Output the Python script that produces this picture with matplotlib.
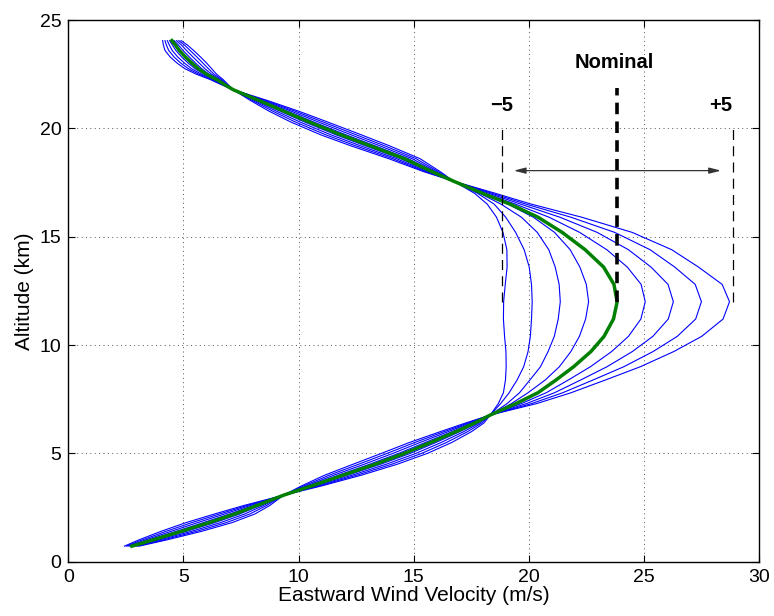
import matplotlib
matplotlib.use('Agg')
import matplotlib.pyplot as plt

plt.rcParams['font.family'] = ['Liberation Sans', 'DejaVu Sans']

# ---------------- data ----------------
ALT = [0.72, 1.0, 1.4, 1.8, 2.2, 2.6, 3.07,
       3.5, 4.0, 4.5, 5.0, 5.5, 6.0, 6.4, 6.77,
       7.3, 7.8, 8.4, 9.0, 9.7, 10.4, 11.2, 12.0, 12.8, 13.6, 14.4, 15.2, 15.9,
       16.5, 17.0, 17.56,
       18.0, 18.6, 19.2, 19.7, 20.3, 20.8, 21.3, 21.78,
       22.0, 22.25, 22.5, 22.75, 23.0, 23.3, 23.6, 23.85, 24.05]

WIND_M5 = [2.44, 3.05, 4.02, 5.10, 6.34, 7.64, 9.35,
           11.01, 12.75, 14.29, 15.60, 16.65, 17.51, 18.05, 18.33,
           18.68, 18.90, 18.99, 19.02, 19.01, 18.95, 18.90, 18.91, 18.98, 19.06,
           19.05, 18.88, 18.60, 18.20, 17.65, 16.74,
           16.16, 15.28, 13.94, 12.73, 11.25, 9.99, 8.61, 7.17,
           6.68, 6.17, 5.56, 5.07, 4.74, 4.42, 4.20, 4.13, 4.10]
WIND_M375 = [2.52, 3.20, 4.24, 5.35, 6.56, 7.78, 9.35,
             10.90, 12.55, 14.05, 15.35, 16.42, 17.34, 17.95, 18.33,
             18.78, 19.15, 19.50, 19.78, 19.97, 20.07, 20.12, 20.15, 20.12, 20.02,
             19.80, 19.43, 19.00, 18.50, 17.78, 16.74,
             16.07, 15.11, 13.73, 12.51, 11.05, 9.83, 8.52, 7.17,
             6.72, 6.24, 5.67, 5.22, 4.90, 4.59, 4.36, 4.26, 4.20]
WIND_M25 = [2.60, 3.35, 4.46, 5.60, 6.78, 7.92, 9.35,
            10.79, 12.35, 13.81, 15.10, 16.19, 17.17, 17.85, 18.33,
            19.06, 19.60, 20.06, 20.51, 20.84, 21.11, 21.28, 21.37, 21.32, 21.15,
            20.87, 20.37, 19.68, 18.80, 17.88, 16.74,
            15.98, 14.94, 13.52, 12.29, 10.85, 9.67, 8.43, 7.17,
            6.75, 6.31, 5.78, 5.36, 5.06, 4.75, 4.51, 4.39, 4.30]
WIND_M125 = [2.68, 3.50, 4.68, 5.85, 7.00, 8.06, 9.35,
             10.68, 12.15, 13.57, 14.85, 15.96, 17.00, 17.75, 18.33,
             19.25, 19.97, 20.73, 21.33, 21.83, 22.20, 22.47, 22.60, 22.50, 22.22,
             21.80, 21.12, 20.20, 19.10, 17.95, 16.74,
             15.89, 14.77, 13.31, 12.07, 10.65, 9.51, 8.34, 7.17,
             6.79, 6.38, 5.89, 5.51, 5.22, 4.92, 4.67, 4.52, 4.40]
WIND_NOMINAL = [2.76, 3.65, 4.90, 6.10, 7.22, 8.20, 9.35,
                10.57, 11.95, 13.33, 14.60, 15.73, 16.83, 17.65, 18.33,
                19.45, 20.40, 21.20, 21.95, 22.70, 23.27, 23.68, 23.84, 23.70, 23.25,
                22.45, 21.45, 20.40, 19.20, 18.00, 16.74,
                15.80, 14.60, 13.10, 11.85, 10.45, 9.35, 8.25, 7.17,
                6.82, 6.45, 6.00, 5.65, 5.38, 5.08, 4.82, 4.65, 4.50]
WIND_P125 = [2.84, 3.80, 5.12, 6.35, 7.44, 8.34, 9.35,
             10.46, 11.75, 13.09, 14.35, 15.50, 16.66, 17.55, 18.33,
             19.68, 20.76, 21.74, 22.68, 23.60, 24.33, 24.87, 25.06, 24.88, 24.28,
             23.39, 22.21, 20.88, 19.43, 18.14, 16.74,
             15.71, 14.43, 12.89, 11.63, 10.25, 9.19, 8.16, 7.17,
             6.86, 6.52, 6.11, 5.80, 5.54, 5.25, 4.98, 4.78, 4.60]
WIND_P25 = [2.92, 3.95, 5.34, 6.60, 7.66, 8.48, 9.35,
            10.35, 11.55, 12.85, 14.10, 15.27, 16.49, 17.45, 18.33,
            19.90, 21.12, 22.28, 23.40, 24.50, 25.39, 26.06, 26.28, 26.05, 25.31,
            24.33, 22.97, 21.35, 19.66, 18.28, 16.74,
            15.62, 14.26, 12.68, 11.41, 10.05, 9.03, 8.07, 7.17,
            6.89, 6.59, 6.22, 5.94, 5.70, 5.41, 5.13, 4.91, 4.70]
WIND_P375 = [3.00, 4.10, 5.56, 6.85, 7.88, 8.62, 9.35,
             10.24, 11.35, 12.61, 13.85, 15.04, 16.32, 17.35, 18.33,
             20.13, 21.48, 22.82, 24.13, 25.40, 26.45, 27.25, 27.50, 27.23, 26.34,
             25.27, 23.73, 21.83, 19.89, 18.42, 16.74,
             15.53, 14.09, 12.47, 11.19, 9.85, 8.87, 7.98, 7.17,
             6.93, 6.66, 6.33, 6.09, 5.86, 5.58, 5.29, 5.04, 4.80]
WIND_P5 = [3.08, 4.25, 5.78, 7.10, 8.10, 8.76, 9.35,
           10.13, 11.15, 12.37, 13.60, 14.81, 16.15, 17.25, 18.33,
           20.35, 21.84, 23.36, 24.85, 26.30, 27.51, 28.44, 28.72, 28.40, 27.37,
           26.21, 24.49, 22.30, 20.12, 18.56, 16.74,
           15.44, 13.92, 12.26, 10.97, 9.65, 8.71, 7.89, 7.17,
           6.96, 6.73, 6.44, 6.23, 6.02, 5.74, 5.44, 5.17, 4.90]

PERTURBED = [WIND_M5, WIND_M375, WIND_M25, WIND_M125,
             WIND_P125, WIND_P25, WIND_P375, WIND_P5]

# annotation values
MARK_LABELS = ['\u22125', 'Nominal', '+5']
MARK_WIND = [18.85, 23.82, 28.85]
PEAK_ALT = 12.0
ARROW_RANGE = [19.35, 28.35]

X_TICKS = [0, 5, 10, 15, 20, 25, 30]
Y_TICKS = [0, 5, 10, 15, 20, 25]

# ---------------- figure ----------------
fig = plt.figure(figsize=(7.74, 6.16), dpi=100)
ax = fig.add_axes([0.0882, 0.0881, 0.8924, 0.8794])

for w in PERTURBED:
    ax.plot(w, ALT, color='#0000ff', lw=0.8, zorder=3)
ax.plot(WIND_NOMINAL, ALT, color='#008000', lw=2.5, zorder=4)

# dashed marker lines
ax.plot([MARK_WIND[0], MARK_WIND[0]], [PEAK_ALT, 20.0], color='k', lw=0.9,
        dashes=(8, 5), zorder=5)
ax.plot([MARK_WIND[2], MARK_WIND[2]], [PEAK_ALT, 20.0], color='k', lw=0.9,
        dashes=(8, 5), zorder=5)
ax.plot([MARK_WIND[1], MARK_WIND[1]], [PEAK_ALT, 21.85], color='k', lw=2.6,
        dashes=(3.2, 2.0), zorder=5)

# double arrow
ax.annotate('', xy=(ARROW_RANGE[0], 18.05), xytext=(ARROW_RANGE[1], 18.05),
            arrowprops=dict(arrowstyle='<|-|>,head_length=0.7,head_width=0.18',
                            color='#333333', lw=0.9, shrinkA=0, shrinkB=0),
            zorder=5)

# text labels
ax.text(18.83, 21.05, MARK_LABELS[0], ha='center', va='center',
        fontsize=14.5, fontweight='bold')
ax.text(23.7, 23.05, MARK_LABELS[1], ha='center', va='center',
        fontsize=14.5, fontweight='bold')
ax.text(28.33, 21.05, MARK_LABELS[2], ha='center', va='center',
        fontsize=14.5, fontweight='bold')

ax.set_xlim(0, 30)
ax.set_ylim(0, 25)
ax.set_xticks(X_TICKS)
ax.set_yticks(Y_TICKS)
ax.tick_params(direction='in', length=5, width=0.8, top=True, right=True,
               labelsize=14, pad=5)
ax.grid(True, color='#555555', lw=0.7, linestyle=(0, (1, 3.5)))
ax.set_axisbelow(True)
for s in ax.spines.values():
    s.set_linewidth(1.0)

ax.set_xlabel('Eastward Wind Velocity (m/s)', fontsize=15, labelpad=0)
ax.set_ylabel('Altitude (km)', fontsize=15, labelpad=4)

fig.savefig('out.png', dpi=100)
